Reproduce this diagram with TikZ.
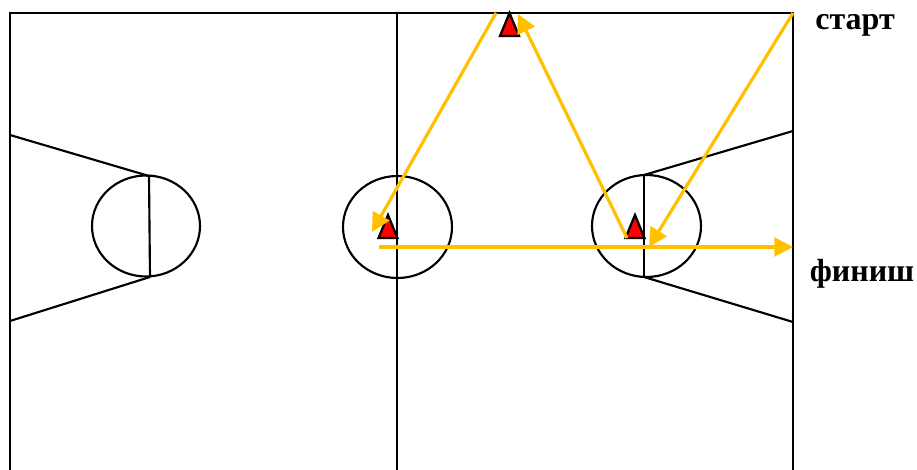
\documentclass[tikz,border=0pt]{standalone}
\usepackage{fontspec}
\setmainfont{Liberation Serif}
\usepackage{xcolor}
\usetikzlibrary{arrows.meta}
\definecolor{track}{HTML}{FFC000}
\definecolor{conered}{HTML}{FF0000}

\begin{document}
\begin{tikzpicture}[x=0.75pt, y=-0.75pt,
            court/.style={black, line width=1.6pt},
            cone/.style={draw=black, fill=conered, line width=1.7pt, line join=miter},
            run/.style={track, line width=2.4pt, -{Triangle[length=14pt, width=14pt]}},
            lbl/.style={font=\bfseries\fontsize{24}{26}\selectfont, inner sep=0pt}]
            \useasboundingbox (0,0) rectangle (917,470);
            % court
            \draw[court] (10,470)--(10,13)--(793,13)--(793,470);
            \draw[court] (397,13)--(397,470);
            \draw[court] (146,226) ellipse (54 and 50.5);
            \draw[court] (397.5,227) ellipse (54.5 and 51);
            \draw[court] (646.5,226) ellipse (54.5 and 51);
            \draw[court] (149,176)--(150,277);
            \draw[court] (644,175)--(644,277);
            \draw[court] (10,135)--(149,176);
            \draw[court] (10,321)--(150,277);
            \draw[court] (793,131)--(644,175);
            \draw[court] (793,322)--(644,277);
            % cones
            \foreach \x/\y in {388/215,509.5/13,635/215} {
                \draw[cone] (\x,\y)--++(-9.5,23)--++(19,0)--cycle;
            }
            % route
            \coordinate (S) at (793,13);
            \coordinate (A) at (649,247);
            \coordinate (B) at (627,238);
            \coordinate (C) at (518,14);
            \coordinate (D) at (496,13);
            \coordinate (E) at (372,232);
            \coordinate (F) at (379,247);
            \coordinate (G) at (793,247);
            \draw[run] (S)--(A);
            \draw[run] (B)--(C);
            \draw[run] (D)--(E);
            \draw[run] (F)--(G);
            \node[lbl] (start) at (855,25) {старт};
            \node[lbl] (finish) at (862,274) {финиш};
\end{tikzpicture}
\end{document}
